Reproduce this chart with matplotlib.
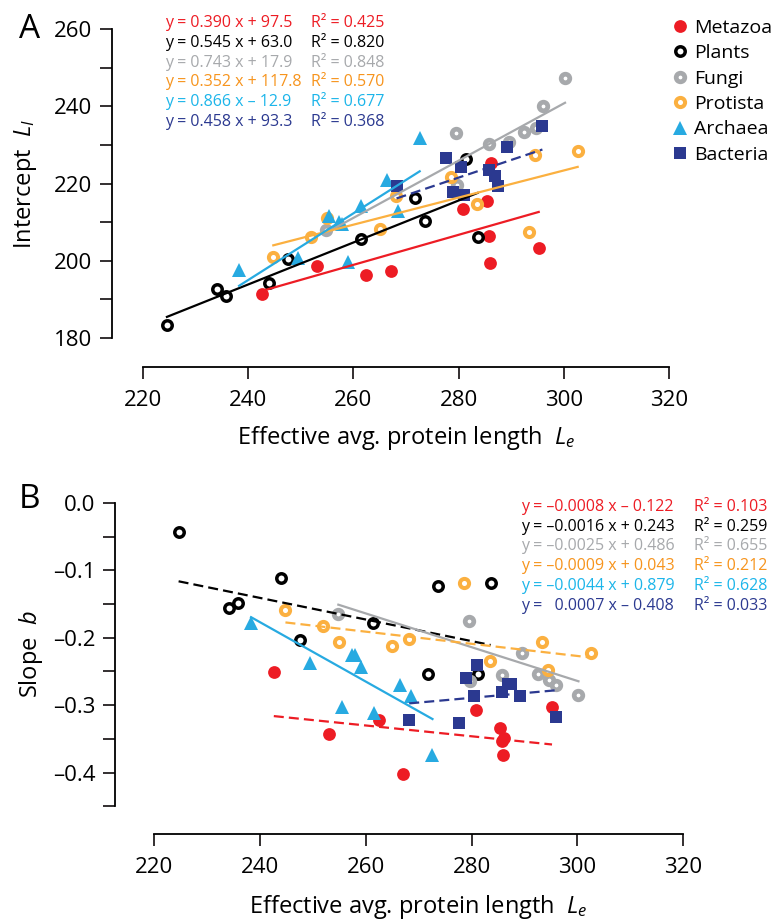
import numpy as np
import matplotlib
matplotlib.use('Agg')
import matplotlib.pyplot as plt
from matplotlib.ticker import MultipleLocator, FuncFormatter

plt.rcParams['font.family'] = ['Open Sans', 'DejaVu Sans']
plt.rcParams['mathtext.fontset'] = 'custom'
plt.rcParams['mathtext.it'] = 'Open Sans:italic'
plt.rcParams['mathtext.rm'] = 'Open Sans'

groups = ['Metazoa', 'Plants', 'Fungi', 'Protista', 'Archaea', 'Bacteria']
colors = ['#ED1C24', '#000000', '#A7A9AC', '#FBB040', '#27AAE1', '#2B3990']
text_colors = ['#ED1C24', '#000000', '#A7A9AC', '#F7941D', '#1CB5EA', '#2B3990']

# effective average protein length L_e (shared by both panels)
metazoa_le = [242.6, 253.1, 262.4, 267.1, 280.9, 285.4, 286.1, 285.8, 285.9, 295.2]
plants_le = [224.6, 234.2, 235.9, 244.0, 247.6, 261.4, 271.8, 273.6, 281.3, 283.6]
fungi_le = [254.8, 279.5, 279.7, 285.7, 289.5, 292.5, 294.6, 296.0, 300.2]
protista_le = [244.8, 251.9, 255.0, 265.0, 268.1, 278.5, 283.5, 293.3, 294.5, 302.6]
archaea_le = [238.3, 249.5, 255.4, 257.3, 257.9, 259.0, 261.5, 266.4, 268.5, 272.6]
bacteria_le = [268.2, 277.6, 279.0, 280.4, 281.0, 285.7, 286.9, 287.5, 289.1, 295.9]

# intercept L_I (panel A)
metazoa_li = [191.3, 198.7, 196.4, 197.3, 213.3, 215.4, 225.2, 206.4, 199.5, 203.3]
plants_li = [183.3, 192.7, 190.8, 194.3, 200.4, 205.6, 216.2, 210.3, 226.3, 206.2]
fungi_li = [207.9, 233.2, 219.6, 230.2, 230.8, 233.4, 234.5, 240.0, 247.5]
protista_li = [201.0, 206.0, 211.0, 208.2, 216.8, 221.8, 214.7, 207.5, 227.5, 228.5]
archaea_li = [197.6, 200.6, 211.5, 210.1, 209.5, 199.7, 214.2, 220.9, 212.9, 231.7]
bacteria_li = [219.4, 226.7, 217.9, 224.4, 217.0, 223.5, 222.0, 219.4, 229.4, 235.0]

# slope b (panel B)
metazoa_b = [-0.251, -0.343, -0.322, -0.402, -0.307, -0.333, -0.349, -0.353, -0.373, -0.302]
plants_b = [-0.044, -0.156, -0.148, -0.111, -0.204, -0.178, -0.253, -0.123, -0.253, -0.119]
fungi_b = [-0.165, -0.175, -0.264, -0.255, -0.222, -0.253, -0.263, -0.270, -0.285]
protista_b = [-0.159, -0.182, -0.207, -0.212, -0.202, -0.119, -0.235, -0.207, -0.248, -0.223]
archaea_b = [-0.178, -0.238, -0.302, -0.226, -0.226, -0.243, -0.312, -0.270, -0.287, -0.373]
bacteria_b = [-0.322, -0.326, -0.260, -0.287, -0.240, -0.280, -0.269, -0.269, -0.287, -0.317]

# fitted lines
top_slope = [0.390, 0.545, 0.743, 0.352, 0.866, 0.458]
top_icpt = [97.5, 63.0, 17.9, 117.8, -12.9, 93.3]
top_dashed = [False, False, False, False, False, True]
bot_slope = [-0.0008, -0.0016, -0.0025, -0.0009, -0.0044, 0.0007]
bot_icpt = [-0.122, 0.243, 0.486, 0.043, 0.879, -0.485]
bot_dashed = [True, True, False, True, False, True]

top_eq = ['y = 0.390 x + 97.5', 'y = 0.545 x + 63.0', 'y = 0.743 x + 17.9',
          'y = 0.352 x + 117.8', 'y = 0.866 x \u2013 12.9', 'y = 0.458 x + 93.3']
top_r2 = ['0.425', '0.820', '0.848', '0.570', '0.677', '0.368']
bot_eq = ['y = \u20130.0008 x \u2013 0.122', 'y = \u20130.0016 x + 0.243',
          'y = \u20130.0025 x + 0.486', 'y = \u20130.0009 x + 0.043',
          'y = \u20130.0044 x + 0.879', 'y =   0.0007 x \u2013 0.408']
bot_r2 = ['0.103', '0.259', '0.655', '0.212', '0.628', '0.033']

le = [metazoa_le, plants_le, fungi_le, protista_le, archaea_le, bacteria_le]
li = [metazoa_li, plants_li, fungi_li, protista_li, archaea_li, bacteria_li]
bb = [metazoa_b, plants_b, fungi_b, protista_b, archaea_b, bacteria_b]

marker_kw = [
    dict(marker='o', ms=9.2, mfc=colors[0], mec=colors[0], mew=0),
    dict(marker='o', ms=6.8, mfc='white', mec=colors[1], mew=2.5),
    dict(marker='o', ms=6.2, mfc='white', mec=colors[2], mew=3.4),
    dict(marker='o', ms=6.6, mfc='white', mec=colors[3], mew=2.9),
    dict(marker='^', ms=9.5, mfc=colors[4], mec=colors[4], mew=0),
    dict(marker='s', ms=8.2, mfc=colors[5], mec=colors[5], mew=0),
]

fig = plt.figure(figsize=(7.71, 9.22), dpi=100)
ax1 = fig.add_axes([0.1851, 0.6337, 0.683, 0.3345])
ax2 = fig.add_axes([0.2001, 0.1253, 0.686, 0.3294])


def style_axes(ax, left_off, bottom_off):
    for s in ['top', 'right']:
        ax.spines[s].set_visible(False)
    ax.spines['left'].set_position(('outward', left_off))
    ax.spines['bottom'].set_position(('outward', bottom_off))
    for s in ['left', 'bottom']:
        ax.spines[s].set_linewidth(1.3)
    ax.tick_params(which='both', width=1.3, length=8.5, labelsize=16, color='#231F20')
    ax.tick_params(axis='y', which='both', pad=6)
    ax.tick_params(axis='x', pad=8)
    ax.set_xlim(220, 320)
    ax.xaxis.set_major_locator(MultipleLocator(20))


style_axes(ax1, 22, 21)
style_axes(ax2, 28, 20)


def minus_fmt(v, p):
    if abs(v) < 1e-9:
        return '0.0'
    return f'{v:.1f}'.replace('-', '\u2013')


# panel A
for i in range(6):
    x = np.array(le[i])
    ax1.plot(x, li[i], ls='none', zorder=3, **marker_kw[i], label=groups[i])
    xs = np.array([x.min(), x.max()])
    ax1.plot(xs, top_slope[i] * xs + top_icpt[i], color=colors[i], lw=1.6,
             ls=(0, (4.5, 2.3)) if top_dashed[i] else '-', zorder=4)
ax1.set_ylim(180, 260)
ax1.yaxis.set_major_locator(MultipleLocator(20))
ax1.yaxis.set_minor_locator(MultipleLocator(10))
ax1.spines['left'].set_bounds(180, 260)
ax1.spines['bottom'].set_bounds(220, 320)
ax1.set_xlabel('Effective avg. protein length  $L_e$', fontsize=17, va='center')
ax1.xaxis.set_label_coords(0.5, -0.325)
ax1.set_ylabel('Intercept  $L_I$', fontsize=17, va='center')
ax1.yaxis.set_label_coords(-0.2235, 0.5)

# panel B
for i in range(6):
    x = np.array(le[i])
    ax2.plot(x, bb[i], ls='none', zorder=3, **marker_kw[i])
    xs = np.array([x.min(), x.max()])
    ax2.plot(xs, bot_slope[i] * xs + bot_icpt[i], color=colors[i], lw=1.6,
             ls=(0, (4.5, 2.3)) if bot_dashed[i] else '-', zorder=4)
ax2.set_ylim(-0.45, 0)
ax2.yaxis.set_major_locator(MultipleLocator(0.1))
ax2.yaxis.set_minor_locator(MultipleLocator(0.05))
ax2.yaxis.set_major_formatter(FuncFormatter(minus_fmt))
ax2.spines['bottom'].set_bounds(220, 320)
ax2.set_xlabel('Effective avg. protein length  $L_e$', fontsize=17, va='center')
ax2.xaxis.set_label_coords(0.5, -0.33)
ax2.set_ylabel('Slope  $b$', fontsize=17, va='center')
ax2.yaxis.set_label_coords(-0.233, 0.5)

# equations, positions in pixels from the top-left corner
W, H = 771, 922
for i in range(6):
    fig.text(165 / W, 1 - (23 + 19.8 * i) / H, top_eq[i], color=text_colors[i],
             fontsize=11.5, va='center', ha='left')
    fig.text(311 / W, 1 - (23 + 19.8 * i) / H, 'R\u00b2 = ' + top_r2[i],
             color=text_colors[i], fontsize=11.5, va='center', ha='left')
    fig.text(521 / W, 1 - (506.7 + 19.9 * i) / H, bot_eq[i], color=text_colors[i],
             fontsize=11.5, va='center', ha='left')
    fig.text(694 / W, 1 - (506.7 + 19.9 * i) / H, 'R\u00b2 = ' + bot_r2[i],
             color=text_colors[i], fontsize=11.5, va='center', ha='left')

# legend
handles, labels = ax1.get_legend_handles_labels()
fig.legend(handles, labels, loc='upper left', bbox_to_anchor=(662 / W, 1 - 11 / H),
           frameon=False, fontsize=14, handletextpad=0.25, labelspacing=0.38,
           handlelength=1.0, borderaxespad=0)

fig.text(30 / W, 1 - 29 / H, 'A', fontsize=24, ha='center', va='center')
fig.text(30 / W, 1 - 499 / H, 'B', fontsize=24, ha='center', va='center')

fig.savefig('out.png', dpi=100)
